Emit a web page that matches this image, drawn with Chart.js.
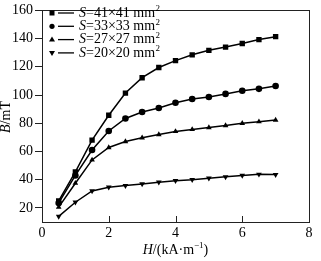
<!DOCTYPE html>
<html>
<head>
<meta charset="utf-8">
<script src="https://cdn.jsdelivr.net/npm/chart.js@4.4.1/dist/chart.umd.min.js"></script>
<style>
  html, body { margin: 0; padding: 0; background: #fff; }
  #wrap { width: 321px; height: 261px; }
</style>
</head>
<body>
<div id="wrap"><canvas id="bhChart" width="321" height="261"></canvas></div>
<script>
// Valores
const hValues = [0.5, 1, 1.5, 2, 2.5, 3, 3.5, 4, 4.5, 5, 5.5, 6, 6.5, 7];
const b41 = [25, 45.5, 68, 85.7, 101.4, 112.3, 119.5, 124.4, 128.5, 131.7, 134, 136.5, 139.3, 141.4];
const b33 = [23.5, 43, 61, 74.5, 83.4, 88, 90.8, 94.5, 97.2, 98.6, 100.8, 103, 104.4, 106.4];
const b27 = [20.5, 37.5, 54, 62.8, 67, 69.7, 72, 74.2, 75.6, 77, 78.4, 80, 81.1, 82.3];
const b20 = [14, 24, 32, 34.7, 35.8, 37, 38.2, 39.3, 40, 41, 42, 43, 43.8, 43.6];
const seriesLabels = ["=41\u00D741 mm", "=33\u00D733 mm", "=27\u00D727 mm", "=20\u00D720 mm"];
const xTicks = [0, 2, 4, 6, 8];
const yTicks = [20, 40, 60, 80, 100, 120, 140, 160];

const serif = "'Liberation Serif', 'DejaVu Serif', serif";

function toPoints(ys) {
  return hValues.map((h, i) => ({ x: h, y: ys[i] }));
}

function makeSet(label, ys, style, rot) {
  return {
    label,
    data: toPoints(ys),
    borderColor: "#000",
    backgroundColor: "#000",
    borderWidth: 1.5,
    pointStyle: style,
    rotation: rot,
    pointRadius: style === "rect" ? 3.8 : 3.3,
    pointBorderWidth: 0,
    tension: 0
  };
}

// desenha um marcador pequeno na legenda
function drawMarker(ctx, style, rot, x, y) {
  ctx.beginPath();
  if (style === "rect") {
    ctx.rect(x - 2.5, y - 2.5, 5, 5);
  } else if (style === "circle") {
    ctx.arc(x, y, 2.6, 0, Math.PI * 2);
  } else if (rot === 180) {
    ctx.moveTo(x - 3, y - 2);
    ctx.lineTo(x + 3, y - 2);
    ctx.lineTo(x, y + 3);
  } else {
    ctx.moveTo(x - 3, y + 2);
    ctx.lineTo(x + 3, y + 2);
    ctx.lineTo(x, y - 3);
  }
  ctx.closePath();
  ctx.fill();
}

// Moldura, ticks do eixo x, legenda e títulos dos eixos
const framePlugin = {
  id: "frame",
  afterDraw(chart) {
    const ctx = chart.ctx;
    const a = chart.chartArea;
    const xs = chart.scales.x;
    ctx.save();
    ctx.strokeStyle = "#222";
    ctx.lineWidth = 1;
    ctx.strokeRect(Math.round(a.left) + 0.5, Math.round(a.top) + 0.5,
      Math.round(a.right - a.left), Math.round(a.bottom - a.top));
    ctx.beginPath();
    xTicks.forEach(v => {
      const px = Math.round(xs.getPixelForValue(v)) + 0.5;
      ctx.moveTo(px, a.bottom);
      ctx.lineTo(px, a.bottom - 6);
    });
    ctx.stroke();

    // legenda
    ctx.fillStyle = "#000";
    ctx.strokeStyle = "#000";
    ctx.textBaseline = "middle";
    chart.data.datasets.forEach((ds, i) => {
      const y = 13 + i * 13.3;
      drawMarker(ctx, ds.pointStyle, ds.rotation, 52, y);
      ctx.lineWidth = 1.3;
      ctx.beginPath();
      ctx.moveTo(58, y);
      ctx.lineTo(74, y);
      ctx.stroke();
      let tx = 79;
      ctx.font = "italic 14px " + serif;
      ctx.fillText("S", tx, y);
      tx += ctx.measureText("S").width;
      ctx.font = "14px " + serif;
      ctx.fillText(ds.label, tx, y);
      tx += ctx.measureText(ds.label).width;
      ctx.font = "9px " + serif;
      ctx.fillText("2", tx + 0.5, y - 4);
    });

    // título do eixo x
    const cx = (a.left + a.right) / 2;
    const parts = [["italic 14px ", "H"], ["14px ", "/(kA\u00B7m"], ["9px ", "\u22121"], ["14px ", ")"]];
    let total = 0;
    parts.forEach(p => { ctx.font = p[0] + serif; total += ctx.measureText(p[1]).width; });
    let px = cx - total / 2;
    parts.forEach(p => {
      ctx.font = p[0] + serif;
      ctx.fillText(p[1], px, p[1] === "\u22121" ? 246 : 250);
      px += ctx.measureText(p[1]).width;
    });

    // título do eixo y (rotacionado)
    ctx.translate(6, 117);
    ctx.rotate(-Math.PI / 2);
    const yParts = [["italic 14px ", "B"], ["14px ", "/mT"]];
    let ytot = 0;
    yParts.forEach(p => { ctx.font = p[0] + serif; ytot += ctx.measureText(p[1]).width; });
    let qx = -ytot / 2;
    yParts.forEach(p => {
      ctx.font = p[0] + serif;
      ctx.fillText(p[1], qx, 0);
      qx += ctx.measureText(p[1]).width;
    });
    ctx.restore();
  }
};

const ctx = document.getElementById("bhChart").getContext("2d");
new Chart(ctx, {
  type: "line",
  data: {
    datasets: [
      makeSet(seriesLabels[0], b41, "rect", 0),
      makeSet(seriesLabels[1], b33, "circle", 0),
      makeSet(seriesLabels[2], b27, "triangle", 0),
      makeSet(seriesLabels[3], b20, "triangle", 180)
    ]
  },
  options: {
    responsive: false,
    animation: false,
    layout: { padding: { top: 6, right: 12, left: 0, bottom: 0 } },
    plugins: {
      legend: { display: false },
      tooltip: { enabled: false }
    },
    scales: {
      x: {
        type: "linear",
        min: 0,
        max: 8,
        afterBuildTicks: axis => { axis.ticks = xTicks.map(v => ({ value: v })); },
        afterFit: axis => { axis.height = 39; },
        grid: { display: false, drawTicks: false },
        border: { display: false },
        ticks: { color: "#000", font: { family: serif, size: 14 }, padding: 3, maxRotation: 0 }
      },
      y: {
        min: 10,
        max: 160,
        afterBuildTicks: axis => { axis.ticks = yTicks.map(v => ({ value: v })); },
        afterFit: axis => { axis.width = 42; },
        grid: { display: true, drawOnChartArea: false, drawTicks: true, tickLength: 7, color: "#222" },
        border: { display: false },
        ticks: { color: "#000", font: { family: serif, size: 14 }, padding: 2 }
      }
    }
  },
  plugins: [framePlugin]
});
</script>
</body>
</html>
